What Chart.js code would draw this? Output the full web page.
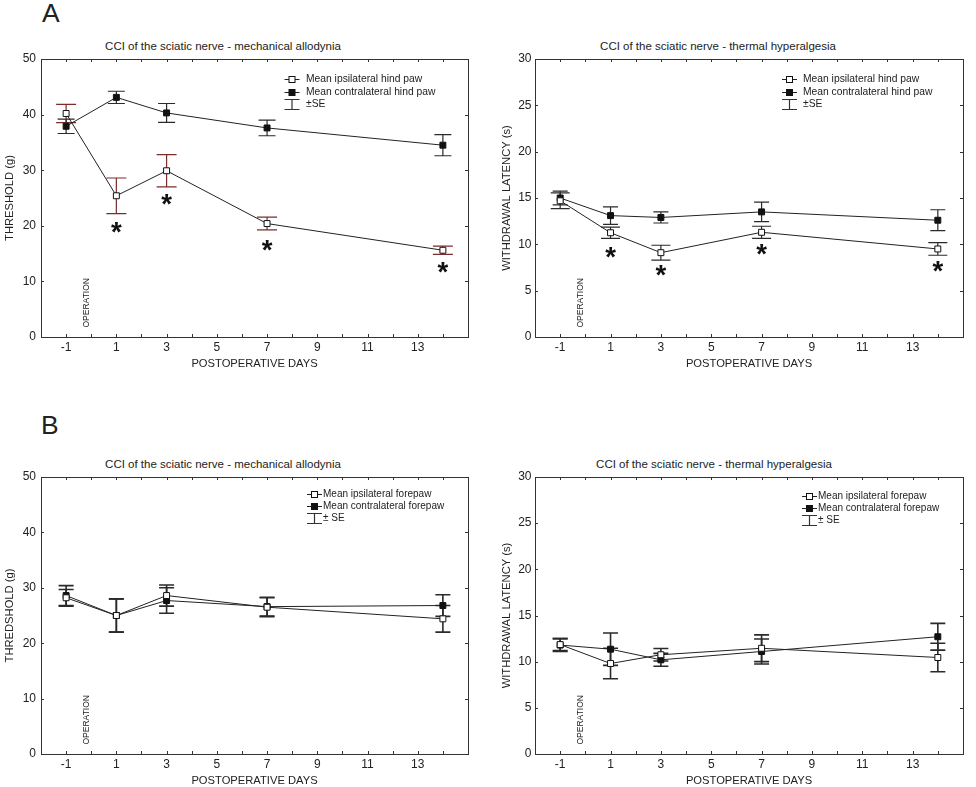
<!DOCTYPE html>
<html>
<head>
<meta charset="utf-8">
<script src="https://cdn.jsdelivr.net/npm/chart.js@4.4.0/dist/chart.umd.min.js"></script>
<style>
  body { margin: 0; background: #fff; font-family: "Liberation Sans", Arial, sans-serif; color: #222; }
  #page { position: relative; width: 976px; height: 787px; overflow: hidden; }
  canvas { position: absolute; }
  .letter { position: absolute; font-size: 26.5px; line-height: 1; }
  .title { position: absolute; font-size: 11.5px; line-height: 14px; white-space: nowrap; transform: translateX(-50%); }
</style>
</head>
<body>
<div id="page">
  <div class="letter" style="left:42px; top:-0.5px">A</div>
  <div class="letter" style="left:41px; top:411.5px">B</div>
  <div class="title" style="left:223px; top:39px">CCI of the sciatic nerve - mechanical allodynia</div>
  <div class="title" style="left:718px; top:39px">CCI of the sciatic nerve - thermal hyperalgesia</div>
  <div class="title" style="left:223px; top:457px">CCI of the sciatic nerve - mechanical allodynia</div>
  <div class="title" style="left:714px; top:457px">CCI of the sciatic nerve - thermal hyperalgesia</div>
  <canvas id="aLeft" width="488" height="342" style="left:0; top:30px"></canvas>
  <canvas id="aRight" width="486" height="342" style="left:490px; top:30px"></canvas>
  <canvas id="bLeft" width="488" height="341" style="left:0; top:448px"></canvas>
  <canvas id="bRight" width="486" height="341" style="left:490px; top:448px"></canvas>
</div>
<script>
const days = [-1, 1, 3, 7, 14];
const dayTickLabels = [-1, 1, 3, 5, 7, 9, 11, 13];
const starDays = [1, 3, 7, 14];

// A, hind paw, mechanical allodynia (g)
const hindMechIpsi = [40.2, 25.4, 29.9, 20.4, 15.6];
const hindMechIpsiSE = [1.65, 3.2, 2.9, 1.15, 0.75];
const hindMechContra = [37.9, 43.1, 40.3, 37.6, 34.5];
const hindMechContraSE = [1.3, 1.1, 1.7, 1.4, 1.9];
const hindMechStars = [19.7, 24.8, 16.6, 12.6];

// A, hind paw, thermal hyperalgesia (s)
const hindThermIpsi = [14.7, 11.25, 9.1, 11.3, 9.5];
const hindThermIpsiSE = [0.85, 0.6, 0.8, 0.65, 0.68];
const hindThermContra = [15.0, 13.1, 12.9, 13.5, 12.6];
const hindThermContraSE = [0.75, 0.95, 0.6, 1.05, 1.13];
const hindThermStars = [9.2, 7.2, 9.45, 7.6];

// B, forepaw, mechanical allodynia (g)
const foreMechIpsi = [28.2, 25.0, 28.6, 26.5, 24.4];
const foreMechIpsiSE = [1.5, 3.0, 1.9, 1.7, 2.4];
const foreMechContra = [28.6, 25.0, 27.7, 26.6, 26.8];
const foreMechContraSE = [1.8, 3.0, 2.3, 1.7, 1.95];

// B, forepaw, thermal hyperalgesia (s)
const foreThermIpsi = [11.85, 9.8, 10.75, 11.45, 10.45];
const foreThermIpsiSE = [0.65, 1.65, 0.67, 1.45, 1.55];
const foreThermContra = [11.8, 11.35, 10.2, 11.1, 12.7];
const foreThermContraSE = [0.7, 1.75, 0.7, 1.35, 1.45];

const FONT = '"Liberation Sans", Arial, sans-serif';
Chart.defaults.font.family = FONT;
Chart.defaults.color = '#222';

// per-chart extras, looked up by canvas id
const extras = {
  aLeft: {
    stars: hindMechStars,
    legend: { mx: 251, tx: 265, rows: [20, 32.5, 44.5], size: 10.3, se: '±SE',
      labels: ['Mean ipsilateral hind paw', 'Mean contralateral hind paw'] }
  },
  aRight: {
    stars: hindThermStars,
    legend: { mx: 254.5, tx: 268, rows: [20, 32.5, 44.5], size: 10.3, se: '±SE',
      labels: ['Mean ipsilateral hind paw', 'Mean contralateral hind paw'] }
  },
  bLeft: {
    stars: null,
    legend: { mx: 273.5, tx: 282, rows: [17, 29, 41], size: 10, se: '± SE',
      labels: ['Mean ipsilateral forepaw', 'Mean contralateral forepaw'] }
  },
  bRight: {
    stars: null,
    legend: { mx: 274.5, tx: 283, rows: [19, 31, 43], size: 10, se: '± SE',
      labels: ['Mean ipsilateral forepaw', 'Mean contralateral forepaw'] }
  }
};

function drawSquare(ctx, x, y, filled) {
  ctx.fillStyle = filled ? '#111' : '#fff';
  ctx.fillRect(x - 3, y - 3, 6, 6);
  ctx.strokeStyle = '#111';
  ctx.lineWidth = 1;
  ctx.strokeRect(x - 3, y - 3, 6, 6);
}

const panelExtras = {
  id: 'panelExtras',
  beforeDatasetsDraw(chart) {
    const { ctx, scales: { x, y } } = chart;
    ctx.save();
    chart.data.datasets.forEach(ds => {
      if (!ds.se) return;
      ctx.strokeStyle = ds.barColor;
      ctx.lineWidth = ds.barWidth;
      ds.data.forEach((p, i) => {
        const px = x.getPixelForValue(p.x);
        const top = y.getPixelForValue(p.y + ds.se[i]);
        const bot = y.getPixelForValue(p.y - ds.se[i]);
        ctx.beginPath();
        ctx.moveTo(px, top); ctx.lineTo(px, bot);
        ctx.moveTo(px - ds.cap, top); ctx.lineTo(px + ds.cap, top);
        ctx.moveTo(px - ds.cap, bot); ctx.lineTo(px + ds.cap, bot);
        ctx.stroke();
      });
    });
    ctx.restore();
  },
  afterDraw(chart) {
    const { ctx, chartArea: a, scales: { x, y } } = chart;
    const ex = extras[chart.canvas.id];
    ctx.save();

    // frame and inside ticks
    ctx.strokeStyle = '#333';
    ctx.lineWidth = 1;
    ctx.strokeRect(Math.round(a.left) + 0.5, Math.round(a.top) + 0.5,
      Math.round(a.right - a.left), Math.round(a.bottom - a.top));
    ctx.beginPath();
    x.ticks.forEach(t => {
      const px = Math.round(x.getPixelForValue(t.value)) + 0.5;
      ctx.moveTo(px, a.bottom); ctx.lineTo(px, a.bottom - 3);
      ctx.moveTo(px, a.top); ctx.lineTo(px, a.top + 3);
    });
    y.ticks.forEach(t => {
      const py = Math.round(y.getPixelForValue(t.value)) + 0.5;
      ctx.moveTo(a.left, py); ctx.lineTo(a.left + 3, py);
      ctx.moveTo(a.right, py); ctx.lineTo(a.right - 3, py);
    });
    ctx.stroke();

    // OPERATION marker text
    ctx.save();
    ctx.translate(x.getPixelForValue(0), a.bottom - 9.5);
    ctx.rotate(-Math.PI / 2);
    ctx.font = '8.5px ' + FONT;
    ctx.fillStyle = '#222';
    ctx.textAlign = 'left';
    ctx.textBaseline = 'bottom';
    ctx.fillText('OPERATION', 0, 0);
    ctx.restore();

    // significance stars
    if (ex.stars) {
      ctx.font = 'bold 100px ' + FONT;
      const m = ctx.measureText('*');
      const gh = m.actualBoundingBoxAscent + m.actualBoundingBoxDescent;
      const k = 10.5 / gh;
      ctx.font = 'bold ' + (100 * k).toFixed(2) + 'px ' + FONT;
      ctx.fillStyle = '#111';
      ctx.textAlign = 'left';
      ctx.textBaseline = 'alphabetic';
      ex.stars.forEach((v, i) => {
        const px = x.getPixelForValue(starDays[i]);
        const py = y.getPixelForValue(v);
        const ox = (m.actualBoundingBoxRight - m.actualBoundingBoxLeft) / 2 * k;
        const oy = (m.actualBoundingBoxAscent - m.actualBoundingBoxDescent) / 2 * k;
        ctx.fillText('*', px - ox, py + oy);
      });
    }

    // legend
    const lg = ex.legend;
    const mx = a.left + lg.mx;
    const tx = a.left + lg.tx;
    ctx.font = lg.size + 'px ' + FONT;
    ctx.fillStyle = '#222';
    ctx.textAlign = 'left';
    ctx.textBaseline = 'middle';
    lg.rows.forEach((dy, i) => {
      const ry = Math.round(a.top + dy) + 0.5;
      if (i < 2) {
        ctx.strokeStyle = '#222';
        ctx.lineWidth = 1;
        ctx.beginPath();
        ctx.moveTo(mx - 7.5, ry); ctx.lineTo(mx + 7.5, ry);
        ctx.stroke();
        drawSquare(ctx, mx, ry, i === 1);
        ctx.fillStyle = '#222';
        ctx.fillText(lg.labels[i], tx, ry);
      } else {
        ctx.strokeStyle = '#333';
        ctx.lineWidth = 1.2;
        ctx.beginPath();
        ctx.moveTo(mx, ry - 5); ctx.lineTo(mx, ry + 5);
        ctx.moveTo(mx - 7.5, ry - 5); ctx.lineTo(mx + 7.5, ry - 5);
        ctx.moveTo(mx - 7.5, ry + 5); ctx.lineTo(mx + 7.5, ry + 5);
        ctx.stroke();
        ctx.fillStyle = '#222';
        ctx.fillText(lg.se, tx, ry);
      }
    });
    ctx.restore();
  }
};

function series(label, values, se, filled, barColor, barWidth, cap) {
  return {
    label,
    data: days.map((d, i) => ({ x: d, y: values[i] })),
    se, barColor, barWidth, cap,
    borderColor: '#222',
    borderWidth: 1,
    tension: 0,
    fill: false,
    pointStyle: 'rect',
    pointRadius: 4.2,
    pointHoverRadius: 4.2,
    pointBackgroundColor: filled ? '#111' : '#fff',
    pointBorderColor: '#111',
    pointBorderWidth: 1
  };
}

function makeChart(id, cfg) {
  return new Chart(document.getElementById(id), {
    type: 'line',
    data: { datasets: cfg.datasets },
    plugins: [panelExtras],
    options: {
      responsive: false,
      animation: false,
      events: [],
      layout: { padding: { top: 29, right: cfg.padRight, left: 0, bottom: 0 } },
      plugins: { legend: { display: false }, tooltip: { enabled: false }, title: { display: false } },
      scales: {
        x: {
          type: 'linear',
          min: -2,
          max: 15,
          grid: { display: false, drawTicks: false },
          border: { display: false },
          ticks: {
            stepSize: 1,
            autoSkip: false,
            maxRotation: 0,
            padding: 3,
            color: '#222',
            font: { size: 12 },
            callback: v => dayTickLabels.includes(v) ? String(v) : ''
          },
          title: {
            display: true,
            text: 'POSTOPERATIVE DAYS',
            color: '#222',
            font: { size: 11.2, lineHeight: 1.2 },
            padding: { top: 0, bottom: 1.28 }
          },
          afterFit: s => { s.height = 35; }
        },
        y: {
          min: 0,
          max: cfg.yMax,
          grid: { display: false, drawTicks: false },
          border: { display: false },
          ticks: { stepSize: cfg.yStep, padding: cfg.tickPad, color: '#222', font: { size: 12 } },
          title: {
            display: true,
            text: cfg.yTitle,
            color: '#222',
            font: { size: 11.2, lineHeight: 1.2 },
            padding: { top: cfg.titlePad, bottom: 0 }
          },
          afterFit: s => { s.width = cfg.yWidth; }
        }
      }
    }
  });
}

const RED = '#7d2b2b';
const DARK = '#2a2a2a';

makeChart('aLeft', {
  yMax: 50, yStep: 10, yTitle: 'THRESHOLD (g)', yWidth: 41, padRight: 20, tickPad: 5, titlePad: 3.28,
  datasets: [
    series('Mean ipsilateral hind paw', hindMechIpsi, hindMechIpsiSE, false, RED, 1.2, 10),
    series('Mean contralateral hind paw', hindMechContra, hindMechContraSE, true, DARK, 1.2, 8.5)
  ]
});

makeChart('aRight', {
  yMax: 30, yStep: 5, yTitle: 'WITHDRAWAL LATENCY (s)', yWidth: 45, padRight: 13, tickPad: 3.5, titlePad: 10,
  datasets: [
    series('Mean ipsilateral hind paw', hindThermIpsi, hindThermIpsiSE, false, DARK, 1.2, 9.5),
    series('Mean contralateral hind paw', hindThermContra, hindThermContraSE, true, DARK, 1.2, 7.5)
  ]
});

makeChart('bLeft', {
  yMax: 50, yStep: 10, yTitle: 'THREDSHOLD (g)', yWidth: 41, padRight: 20, tickPad: 5, titlePad: 3.28,
  datasets: [
    series('Mean ipsilateral forepaw', foreMechIpsi, foreMechIpsiSE, false, DARK, 1.6, 7.5),
    series('Mean contralateral forepaw', foreMechContra, foreMechContraSE, true, DARK, 1.6, 7.5)
  ]
});

makeChart('bRight', {
  yMax: 30, yStep: 5, yTitle: 'WITHDRAWAL LATENCY (s)', yWidth: 45, padRight: 13, tickPad: 3.5, titlePad: 10,
  datasets: [
    series('Mean ipsilateral forepaw', foreThermIpsi, foreThermIpsiSE, false, DARK, 1.6, 7.5),
    series('Mean contralateral forepaw', foreThermContra, foreThermContraSE, true, DARK, 1.6, 7.5)
  ]
});
</script>
</body>
</html>
